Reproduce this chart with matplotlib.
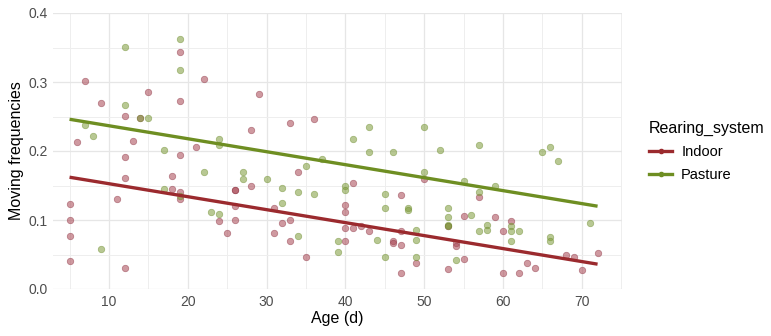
import numpy as np
import matplotlib.pyplot as plt
from matplotlib.lines import Line2D

plt.rcParams['font.family'] = ['Liberation Sans', 'DejaVu Sans']

# observed points, Indoor
indoor_age = [5, 5, 5, 5, 6, 7, 9, 11, 12, 12, 12, 12, 13, 14, 15, 18, 18, 19, 19, 19, 19, 19,
              21, 22, 24, 25, 26, 26, 26, 26, 28, 28, 29, 31, 31, 32, 33, 33, 33, 34, 35, 36,
              40, 40, 40, 40, 41, 41, 42, 43, 46, 46, 47, 47, 47, 47, 49, 50, 53, 53, 54, 54,
              55, 55, 57, 59, 60, 60, 61, 62, 63, 64, 68, 69, 70, 72]
indoor_freq = [0.123, 0.100, 0.077, 0.040, 0.213, 0.301, 0.269, 0.130, 0.251, 0.191, 0.161, 0.031,
               0.214, 0.248, 0.285, 0.164, 0.145, 0.344, 0.272, 0.194, 0.140, 0.130,
               0.206, 0.304, 0.099, 0.081, 0.144, 0.144, 0.120, 0.100, 0.230, 0.149, 0.282,
               0.118, 0.081, 0.096, 0.241, 0.100, 0.070, 0.169, 0.046, 0.246,
               0.122, 0.112, 0.089, 0.070, 0.154, 0.089, 0.091, 0.084, 0.070, 0.067,
               0.136, 0.084, 0.064, 0.023, 0.038, 0.159, 0.091, 0.029, 0.067, 0.062,
               0.106, 0.044, 0.133, 0.104, 0.084, 0.023, 0.099, 0.023, 0.038, 0.031,
               0.049, 0.046, 0.028, 0.052]

# observed points, Pasture
pasture_age = [7, 8, 9, 12, 12, 14, 15, 17, 17, 19, 19, 19, 22, 23, 24, 24, 24, 27, 27, 30,
               32, 32, 34, 34, 35, 36, 37, 39, 39, 40, 40, 41, 43, 43, 44, 45, 45, 45, 46,
               48, 48, 49, 49, 49, 50, 50, 52, 53, 53, 53, 53, 54, 55, 56, 57, 57, 57, 58, 58,
               59, 61, 61, 61, 62, 65, 66, 66, 66, 67, 71]
pasture_freq = [0.237, 0.222, 0.058, 0.351, 0.266, 0.248, 0.248, 0.201, 0.145, 0.362, 0.317, 0.135,
                0.169, 0.111, 0.217, 0.209, 0.109, 0.169, 0.160, 0.159,
                0.146, 0.125, 0.141, 0.077, 0.178, 0.138, 0.188, 0.070, 0.054, 0.149, 0.144,
                0.217, 0.235, 0.199, 0.071, 0.138, 0.118, 0.047, 0.199,
                0.118, 0.115, 0.086, 0.071, 0.047, 0.235, 0.169, 0.201, 0.118, 0.104, 0.093, 0.091,
                0.042, 0.156, 0.107, 0.209, 0.140, 0.084, 0.093, 0.086,
                0.149, 0.091, 0.084, 0.069, 0.084, 0.198, 0.206, 0.075, 0.069, 0.185, 0.096]

# fitted lines (end values)
fit_age = [5, 72]
indoor_fit = [0.162, 0.036]
pasture_fit = [0.246, 0.120]

red = '#9B2A2E'
green = '#6E8E22'

fig = plt.figure(figsize=(7.71, 3.36), dpi=100)
ax = fig.add_axes([53/771, 47/336, 569/771, 276/336])

ax.scatter(indoor_age, indoor_freq, s=22, color='#A84552', alpha=0.55, edgecolors='#8A3040', linewidths=0.5, zorder=3)
ax.scatter(pasture_age, pasture_freq, s=22, color='#7E9C3A', alpha=0.55, edgecolors='#6A8A2A', linewidths=0.5, zorder=3)
ax.plot(fit_age, indoor_fit, color=red, lw=2.4, zorder=4, solid_capstyle='butt')
ax.plot(fit_age, pasture_fit, color=green, lw=2.4, zorder=4, solid_capstyle='butt')

ax.set_xlim(2.9, 75.1)
ax.set_ylim(0, 0.4)
ax.set_xticks([10, 20, 30, 40, 50, 60, 70])
ax.set_xticks(np.arange(5, 76, 10), minor=True)
ax.set_yticks([0.0, 0.1, 0.2, 0.3, 0.4])
ax.set_yticks([0.05, 0.15, 0.25, 0.35], minor=True)
ax.set_yticklabels(['0.0', '0.1', '0.2', '0.3', '0.4'])
ax.grid(which='major', color='#E6E6E6', lw=0.9)
ax.grid(which='minor', color='#EEEEEE', lw=0.7)
ax.set_axisbelow(True)
for s in ax.spines.values():
    s.set_visible(False)
ax.tick_params(which='both', length=0, labelsize=10, labelcolor='#4D4D4D', pad=4)
ax.set_xlabel('Age (d)', fontsize=11.5, labelpad=2)
ax.set_ylabel('Moving frequencies', fontsize=11.5, labelpad=3)

handles = [Line2D([], [], color=red, lw=2.4, marker='o', markersize=3),
           Line2D([], [], color=green, lw=2.4, marker='o', markersize=3)]
leg = fig.legend(handles, ['Indoor', 'Pasture'], title='Rearing_system',
                 loc='upper left', bbox_to_anchor=(636/771, 1 - 108/336),
                 frameon=False, fontsize=10.5, title_fontsize=11.5,
                 handlelength=1.6, handletextpad=0.6, labelspacing=0.6)
leg._legend_box.align = 'left'

fig.savefig('out.png', dpi=100)
